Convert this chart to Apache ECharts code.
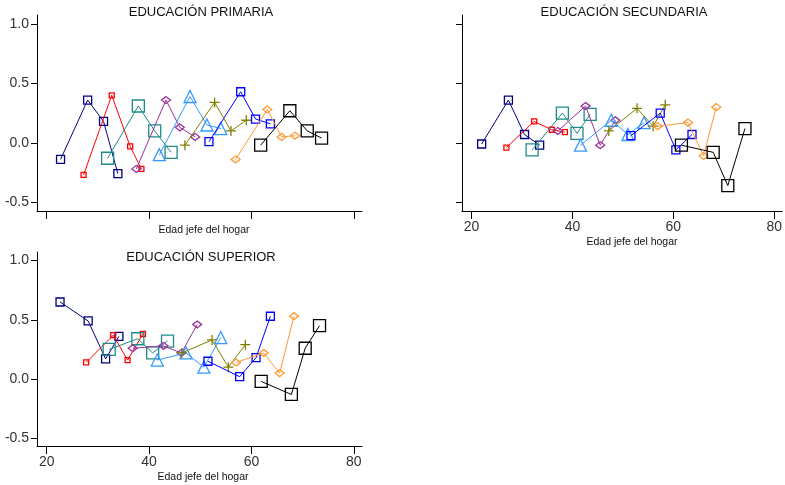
<!DOCTYPE html>
<html>
<head>
<meta charset="utf-8">
<script src="https://cdn.jsdelivr.net/npm/echarts@6/dist/echarts.min.js"></script>
<style>
html,body{margin:0;padding:0;background:#fff;}
#chart{width:785px;height:485px;}
</style>
</head>
<body>
<div id="chart"></div>
<script>
// ---- data ----
const panelTitles = ['EDUCACIÓN PRIMARIA', 'EDUCACIÓN SECUNDARIA', 'EDUCACIÓN SUPERIOR'];
const xAxisTitle = 'Edad jefe del hogar';
const xTicks = [20, 40, 60, 80];
const yTicks = [-0.5, 0, 0.5, 1.0];

const primariaEdad = [
  [22.7, 28.0, 31.1, 33.9],
  [27.2, 32.7, 36.3, 38.5],
  [31.9, 37.9, 41.1, 44.3],
  [37.5, 43.3, 46.0, 49.0],
  [42.0, 48.0, 51.3, 54.0],
  [47.0, 52.8, 56.0, 59.0],
  [51.7, 57.9, 60.8, 63.7],
  [56.9, 63.1, 65.9, 68.5],
  [61.8, 67.5, 70.9, 73.7]
];
const primariaEfecto = [
  [-0.14, 0.36, 0.18, -0.26],
  [-0.27, 0.40, -0.03, -0.22],
  [-0.13, 0.31, 0.10, -0.08],
  [-0.22, 0.36, 0.13, 0.05],
  [-0.10, 0.39, 0.15, 0.12],
  [-0.02, 0.34, 0.10, 0.19],
  [0.01, 0.43, 0.20, 0.16],
  [-0.14, 0.28, 0.05, 0.06],
  [-0.02, 0.27, 0.10, 0.04]
];

const secundariaEdad = [
  [22.0, 27.3, 30.5, 33.5],
  [26.9, 32.4, 35.9, 38.5],
  [32.0, 38.0, 40.9, 43.5],
  [37.1, 42.6, 45.5, 48.5],
  [41.6, 47.7, 51.0, 54.2],
  [47.2, 52.8, 56.0, 58.4],
  [51.6, 57.4, 60.5, 63.7],
  [56.9, 62.9, 66.0, 68.5],
  [61.6, 67.9, 70.8, 74.2]
];
const secundariaEfecto = [
  [-0.01, 0.36, 0.07, -0.02],
  [-0.04, 0.18, 0.11, 0.09],
  [-0.06, 0.25, 0.08, 0.24],
  [0.10, 0.31, -0.02, 0.19],
  [-0.02, 0.19, 0.07, 0.17],
  [0.10, 0.29, 0.14, 0.32],
  [0.06, 0.25, -0.06, 0.07],
  [0.14, 0.17, -0.11, 0.30],
  [-0.02, -0.08, -0.36, 0.12]
];

const superiorEdad = [
  [22.6, 28.1, 31.5, 34.1],
  [27.7, 33.0, 35.8, 38.8],
  [32.2, 37.8, 40.7, 43.6],
  [36.8, 42.8, 46.3, 49.4],
  [41.6, 47.2, 50.7, 54.0],
  [46.4, 52.3, 55.5, 58.8],
  [51.5, 57.7, 60.9, 63.7],
  [57.0, 62.4, 65.5, 68.3],
  [61.9, 67.8, 70.5, 73.3]
];
const superiorEfecto = [
  [0.65, 0.49, 0.17, 0.36],
  [0.14, 0.37, 0.16, 0.38],
  [0.25, 0.34, 0.22, 0.32],
  [0.26, 0.28, 0.22, 0.46],
  [0.16, 0.22, 0.10, 0.35],
  [0.22, 0.33, 0.10, 0.29],
  [0.15, 0.02, 0.18, 0.53],
  [0.14, 0.22, 0.05, 0.53],
  [-0.02, -0.13, 0.26, 0.45]
];

// ---- styles ----
const cohortColors = ['#000080', '#ff0000', '#1f8a8a', '#993399', '#3399ff', '#808000', '#0000ff', '#ff9933', '#000000'];
const plusPath = 'path://M5,0 L5,10 M0,5 L10,5';
const cohortSymbols = ['rect', 'rect', 'rect', 'diamond', 'triangle', plusPath, 'rect', 'diamond', 'rect'];
const cohortSizes = [8, 5, 12, [9, 7], 12, 10, 8, [9, 7], 12];

const panels = [
  {edad: primariaEdad, efecto: primariaEfecto},
  {edad: secundariaEdad, efecto: secundariaEfecto},
  {edad: superiorEdad, efecto: superiorEfecto}
];

const grids = [
  {left: 37, top: 15, width: 325, height: 196},
  {left: 462, top: 15, width: 323, height: 196},
  {left: 37, top: 252, width: 325, height: 194}
];
const yRanges = [[-0.574, 1.076], [-0.574, 1.076], [-0.565, 1.072]];
const showXLabels = [false, true, true];
const showYLabels = [true, false, true];

const axisLineStyle = {color: '#000', width: 1};
const labelFont = {fontFamily: 'Liberation Sans, Arial, sans-serif', fontSize: 14, color: '#333'};

const xAxes = grids.map((g, i) => ({
  type: 'value', gridIndex: i, min: 18.1, max: 81.6,
  axisLine: {show: true, onZero: false, lineStyle: axisLineStyle},
  axisTick: {show: true, length: 8, customValues: xTicks, lineStyle: axisLineStyle},
  axisLabel: Object.assign({show: showXLabels[i], margin: 9, customValues: xTicks}, labelFont),
  splitLine: {show: false}
}));
const yAxes = grids.map((g, i) => ({
  type: 'value', gridIndex: i, min: yRanges[i][0], max: yRanges[i][1],
  axisLine: {show: true, onZero: false, lineStyle: axisLineStyle},
  axisTick: {show: true, length: 6, customValues: yTicks, lineStyle: axisLineStyle},
  axisLabel: Object.assign({show: showYLabels[i], margin: 8, customValues: yTicks,
    formatter: v => v.toFixed(1)}, labelFont),
  splitLine: {show: false}
}));

const series = [];
panels.forEach((p, gi) => {
  p.edad.forEach((xs, ci) => {
    series.push({
      type: 'line', xAxisIndex: gi, yAxisIndex: gi,
      data: xs.map((x, k) => [x, p.efecto[ci][k]]),
      symbol: cohortSymbols[ci], symbolSize: cohortSizes[ci],
      showAllSymbol: true,
      lineStyle: {color: cohortColors[ci], width: 1},
      itemStyle: {color: 'rgba(255,255,255,0)', borderColor: cohortColors[ci], borderWidth: 1.3},
      emphasis: {disabled: true},
      z: 2 + ci
    });
  });
});

const textFont = 'Liberation Sans, Arial, sans-serif';
const graphics = [
  {type: 'text', x: 201, y: 12, style: {text: panelTitles[0], font: '13px ' + textFont, fill: '#111', align: 'center', verticalAlign: 'middle'}},
  {type: 'text', x: 624, y: 12, style: {text: panelTitles[1], font: '13px ' + textFont, fill: '#111', align: 'center', verticalAlign: 'middle'}},
  {type: 'text', x: 201, y: 257, style: {text: panelTitles[2], font: '13px ' + textFont, fill: '#111', align: 'center', verticalAlign: 'middle'}},
  {type: 'text', x: 204, y: 230, style: {text: xAxisTitle, font: '10.5px ' + textFont, fill: '#111', align: 'center', verticalAlign: 'middle'}},
  {type: 'text', x: 632, y: 242, style: {text: xAxisTitle, font: '10.5px ' + textFont, fill: '#111', align: 'center', verticalAlign: 'middle'}},
  {type: 'text', x: 203, y: 477, style: {text: xAxisTitle, font: '10.5px ' + textFont, fill: '#111', align: 'center', verticalAlign: 'middle'}}
];

const chart = echarts.init(document.getElementById('chart'), null, {renderer: 'canvas'});
chart.setOption({
  animation: false,
  backgroundColor: '#fff',
  grid: grids,
  xAxis: xAxes,
  yAxis: yAxes,
  series: series,
  graphic: graphics
});
</script>
</body>
</html>
